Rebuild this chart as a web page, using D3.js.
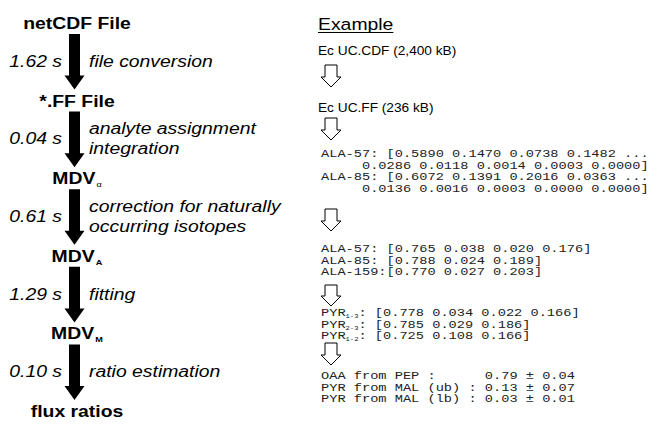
<!DOCTYPE html>
<html>
<head>
<meta charset="utf-8">
<script src="https://cdn.jsdelivr.net/npm/d3@7"></script>
<style>
  body { margin: 0; background: #fff; }
  svg { display: block; }
</style>
</head>
<body>
<div id="chart"></div>
<script>

// processing chain (left column)
var nodes = ['netCDF File', '*.FF File', 'MDV', 'MDV', 'MDV', 'flux ratios']
var nodeSubs = ['', '', '\u03b1', 'A', 'M', '']
var times = ['1.62 s', '0.04 s', '0.61 s', '1.29 s', '0.10 s']
var steps = [
  ['file conversion'],
  ['analyte assignment', 'integration'],
  ['correction for naturally', 'occurring isotopes'],
  ['fitting'],
  ['ratio estimation']
]

// example (right column)
var exampleTitle = 'Example'
var exampleFiles = ['Ec UC.CDF (2,400 kB)', 'Ec UC.FF (236 kB)']
var rawMdv = [
  'ALA-57: [0.5890 0.1470 0.0738 0.1482 ...',
  '     0.0286 0.0118 0.0014 0.0003 0.0000]',
  'ALA-85: [0.6072 0.1391 0.2016 0.0363 ...',
  '     0.0136 0.0016 0.0003 0.0000 0.0000]'
]
var corrMdv = [
  'ALA-57: [0.765 0.038 0.020 0.176]',
  'ALA-85: [0.788 0.024 0.189]',
  'ALA-159:[0.770 0.027 0.203]'
]
var pyrNames = ['PYR', 'PYR', 'PYR']
var pyrSubs = ['1-3', '2-3', '1-2']
var pyrMdv = [
  ': [0.778 0.034 0.022 0.166]',
  ': [0.785 0.029 0.186]',
  ': [0.725 0.108 0.166]'
]
var ratios = [
  'OAA from PEP :      0.79 \u00b1 0.04',
  'PYR from MAL (ub) : 0.13 \u00b1 0.07',
  'PYR from MAL (lb) : 0.03 \u00b1 0.01'
]

var width = 653
var height = 433
var sx = 1.14   // source picture is a bit stretched sideways
var monoSize = 10.5
var monoSx = 8.2 / (0.6 * monoSize)

var svg = d3.select('#chart')
  .append('svg')
  .attr('width', width)
  .attr('height', height)

var yScale = d3.scaleLinear()
  .domain([0, nodes.length - 1])
  .range([29, 417])

function addText(g, x, y, str, opts) {
  var t = g.append('text')
    .attr('transform', 'translate(' + x + ',' + y + ') scale(' + (opts.sx || sx) + ',1)')
    .attr('font-family', opts.family || 'Liberation Sans, Arial, sans-serif')
    .attr('font-size', opts.size)
    .attr('fill', opts.fill || '#000')
    .style('white-space', 'pre')
    .text(str)
  if (opts.weight) t.attr('font-weight', opts.weight)
  if (opts.style) t.attr('font-style', opts.style)
  if (opts.anchor) t.attr('text-anchor', opts.anchor)
  return t
}

// ---- left column
var left = svg.append('g')
var cx = 74.5
var cxText = 77

nodes.forEach(function(n, i) {
  var t = addText(left, cxText, yScale(i), n, {size: 17, weight: 'bold', anchor: 'middle'})
  if (nodeSubs[i]) {
    t.append('tspan')
      .attr('font-size', 8)
      .attr('font-weight', nodeSubs[i] == '\u03b1' ? 'normal' : 'bold')
      .attr('dy', 3)
      .attr('dx', 1)
      .text(nodeSubs[i])
  }
})

times.forEach(function(tm, i) {
  var top = yScale(i) + 5
  var tip = yScale(i + 1) - 17
  var hh = 14
  var pts = [
    [cx - 5.5, top], [cx + 5.5, top], [cx + 5.5, tip - hh], [cx + 10, tip - hh],
    [cx, tip], [cx - 10, tip - hh], [cx - 5.5, tip - hh]
  ]
  left.append('path')
    .attr('d', d3.line()(pts) + 'Z')
    .attr('fill', '#000')

  var mid = (top + tip) / 2 + 5
  addText(left, 62, mid, tm, {size: 17, style: 'italic', anchor: 'end'})

  var lines = steps[i]
  lines.forEach(function(s, j) {
    var y = mid + (j - (lines.length - 1) / 2) * 20
    addText(left, 89, y, s, {size: 17, style: 'italic'})
  })
})

// ---- right column
var right = svg.append('g')
var rx = 318
var mx = 321
var lh = 11.7
var mono = 'Liberation Mono, Courier New, monospace'
var monoOpts = {size: monoSize, family: mono, sx: monoSx, fill: '#222'}

var title = addText(right, rx, 30, exampleTitle, {size: 17})
var tw = title.node().getBBox().width * sx
right.append('line')
  .attr('x1', rx).attr('x2', rx + tw)
  .attr('y1', 32.5).attr('y2', 32.5)
  .attr('stroke', '#000').attr('stroke-width', 1)

function hollowArrow(top, tip) {
  var ax = 331
  var hh = 10
  var pts = [
    [ax - 6, top], [ax + 6, top], [ax + 6, tip - hh], [ax + 10, tip - hh],
    [ax, tip], [ax - 10, tip - hh], [ax - 6, tip - hh]
  ]
  right.append('path')
    .attr('d', d3.line()(pts) + 'Z')
    .attr('fill', '#fff')
    .attr('stroke', '#000')
    .attr('stroke-width', 1)
}

addText(right, rx, 55, exampleFiles[0], {size: 12})
hollowArrow(65, 87)
addText(right, rx, 112, exampleFiles[1], {size: 12})
hollowArrow(118, 140)

rawMdv.forEach(function(s, i) {
  addText(right, mx, 157 + i * lh, s, monoOpts)
})
hollowArrow(209, 231)

corrMdv.forEach(function(s, i) {
  addText(right, mx, 252 + i * lh, s, monoOpts)
})
hollowArrow(285, 306)

pyrNames.forEach(function(s, i) {
  var t = addText(right, mx, 316 + i * lh, s, monoOpts)
  t.append('tspan').attr('font-size', 5.5).attr('dy', 2).text(pyrSubs[i])
  t.append('tspan').attr('dy', -2).text(pyrMdv[i])
})
hollowArrow(343, 365)

ratios.forEach(function(s, i) {
  addText(right, mx, 379 + i * lh, s, monoOpts)
})

</script>
</body>
</html>
